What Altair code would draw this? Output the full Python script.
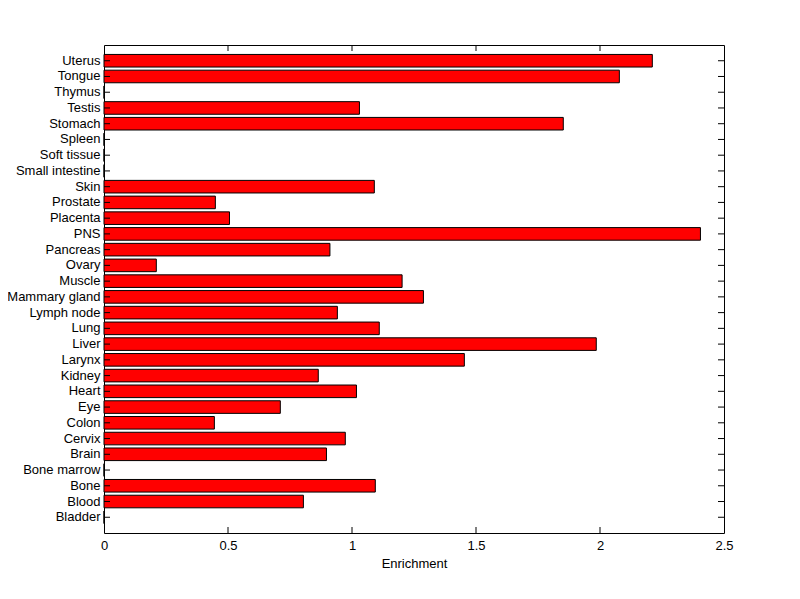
import altair as alt
import pandas as pd

tissues = ["Uterus", "Tongue", "Thymus", "Testis", "Stomach", "Spleen", "Soft tissue",
           "Small intestine", "Skin", "Prostate", "Placenta", "PNS", "Pancreas", "Ovary",
           "Muscle", "Mammary gland", "Lymph node", "Lung", "Liver", "Larynx", "Kidney",
           "Heart", "Eye", "Colon", "Cervix", "Brain", "Bone marrow", "Bone", "Blood", "Bladder"]
enrichment = [2.211, 2.078, 0.0, 1.030, 1.852, 0.0, 0.0,
              0.0, 1.090, 0.449, 0.506, 2.405, 0.911, 0.211,
              1.202, 1.288, 0.941, 1.110, 1.985, 1.453, 0.864,
              1.018, 0.711, 0.445, 0.973, 0.897, 0.0, 1.094, 0.804, 0.0]
x_ticks = [0.5, 1.0, 1.5, 2.0]
x_tick_labels = [0, 0.5, 1, 1.5, 2, 2.5]

df = pd.DataFrame({"tissue": tissues, "value": enrichment})
tdf = pd.DataFrame({"t": x_ticks})

FONT = "Liberation Sans"
FS = 13
W, H = 620, 488
TL = 6

yscale = alt.Scale(domain=tissues, paddingInner=0.2, paddingOuter=0.6)
xscale = alt.Scale(domain=[0, 2.5], nice=False, zero=True)

bars = alt.Chart(df).mark_bar(fill="#ff0000", stroke="black", strokeWidth=1).encode(
    y=alt.Y("tissue:N", sort=tissues, scale=yscale,
            axis=alt.Axis(title=None, ticks=False, domain=False, labelPadding=4,
                          labelFont=FONT, labelFontSize=FS, labelColor="black")),
    x=alt.X("value:Q", scale=xscale,
            axis=alt.Axis(title="Enrichment", values=x_tick_labels, ticks=False, domain=False,
                          grid=False, labelPadding=6, labelFont=FONT, labelFontSize=FS,
                          labelColor="black", titleFont=FONT, titleFontSize=FS,
                          titleFontWeight="normal", titleColor="black", titlePadding=5,
                          labelFlush=False, format="~g")),
)

yl = alt.Chart(df).mark_rule(color="black", strokeWidth=1).encode(
    y=alt.Y("tissue:N", sort=tissues, scale=yscale),
    x=alt.value(0), x2=alt.value(TL))
yr = alt.Chart(df).mark_rule(color="black", strokeWidth=1).encode(
    y=alt.Y("tissue:N", sort=tissues, scale=yscale),
    x=alt.value(W - TL), x2=alt.value(W))
xb = alt.Chart(tdf).mark_rule(color="black", strokeWidth=1).encode(
    x=alt.X("t:Q", scale=xscale),
    y=alt.value(H - TL), y2=alt.value(H))
xt = alt.Chart(tdf).mark_rule(color="black", strokeWidth=1).encode(
    x=alt.X("t:Q", scale=xscale),
    y=alt.value(0), y2=alt.value(TL))

chart = alt.layer(bars, yl, yr, xb, xt).properties(
    width=W, height=H,
    autosize=alt.AutoSizeParams(type="none"),
    padding={"left": 96, "top": 37, "right": 60, "bottom": 50},
    background="white",
).configure_view(stroke="black", strokeWidth=1)

chart.save("out.html", embed_options={"renderer": "svg", "actions": False})
